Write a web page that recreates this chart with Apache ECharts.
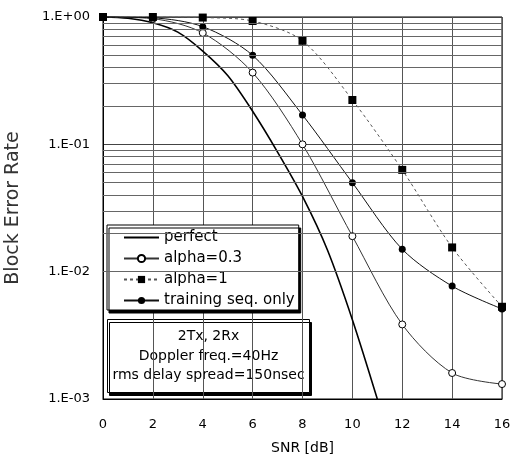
<!DOCTYPE html>
<html>
<head>
<meta charset="utf-8">
<script src="https://cdn.jsdelivr.net/npm/echarts@6/dist/echarts.min.js"></script>
<style>
  html, body { margin: 0; padding: 0; background: #fff; }
  #chart { width: 512px; height: 458px; }
</style>
</head>
<body>
<div id="chart"></div>
<script>
// SNR points (dB)
var snrMarked = [0, 2, 4, 6, 8, 10, 12, 14, 16];
var snrPerfect = [0, 1, 2, 3, 4, 5, 6, 7, 8, 9, 10, 11];

// block error rate
var perfectBler = [1.0, 0.977, 0.90, 0.76, 0.54, 0.347, 0.182, 0.087, 0.039, 0.0148, 0.0042, 0.001];
var alpha03Bler = [1.0, 0.97, 0.75, 0.366, 0.1, 0.019, 0.00385, 0.0016, 0.00131];
var alpha1Bler = [1.0, 1.0, 0.99, 0.93, 0.65, 0.223, 0.063, 0.0155, 0.0053];
var trainingBler = [1.0, 0.985, 0.84, 0.50, 0.17, 0.05, 0.015, 0.0077, 0.0051];

// minor horizontal grid lines (2..9 per decade)
var minorGrid = [0.002, 0.003, 0.004, 0.005, 0.006, 0.007, 0.008, 0.009,
                 0.02, 0.03, 0.04, 0.05, 0.06, 0.07, 0.08, 0.09,
                 0.2, 0.3, 0.4, 0.5, 0.6, 0.7, 0.8, 0.9];

var yTicks = ['1.E-03', '1.E-02', '1.E-01', '1.E+00'];

var boxText = ['2Tx, 2Rx', 'Doppler freq.=40Hz', 'rms delay spread=150nsec'];

function pairs(xs, ys) {
    var out = [];
    for (var i = 0; i < ys.length; i++) {
        out.push([xs[i], ys[i]]);
    }
    return out;
}

var font = 'DejaVu Sans';

var chart = echarts.init(document.getElementById('chart'));
var option = {
    animation: false,
    backgroundColor: '#fff',
    textStyle: { fontFamily: font },
    grid: {
        left: 103, right: 10, top: 17, bottom: 59,
        outerBoundsMode: 'none',
        show: true, borderColor: '#000', borderWidth: 1
    },
    legend: {
        orient: 'vertical',
        left: 107, top: 225,
        data: [
            { name: 'perfect', itemStyle: { color: 'rgba(0,0,0,0)', borderWidth: 0, opacity: 0 } },
            'alpha=0.3', 'alpha=1', 'training seq. only'
        ],
        itemWidth: 35, itemHeight: 9, itemGap: 6,
        padding: [5, 4, 2, 16],
        backgroundColor: '#fff',
        borderColor: '#000', borderWidth: 1,
        shadowColor: '#000', shadowBlur: 0, shadowOffsetX: 2, shadowOffsetY: 3,
        textStyle: { fontFamily: font, fontSize: 15, color: '#000' }
    },
    xAxis: {
        type: 'value', min: 0, max: 16, interval: 2,
        name: 'SNR [dB]', nameLocation: 'middle', nameGap: 42,
        nameTextStyle: { fontFamily: font, fontSize: 14, color: '#000' },
        axisLine: { lineStyle: { color: '#000' } },
        axisTick: { show: false },
        axisLabel: { color: '#000', fontSize: 13, margin: 19 },
        splitLine: { lineStyle: { color: '#555', width: 1 } }
    },
    yAxis: {
        type: 'log', logBase: 10, min: 0.001, max: 1,
        name: 'Block Error Rate', nameLocation: 'middle', nameGap: 80,
        nameTextStyle: { fontFamily: font, fontSize: 19, color: '#333' },
        axisLine: { lineStyle: { color: '#000' } },
        axisTick: { show: false },
        axisLabel: {
            color: '#000', fontSize: 13, margin: 13,
            formatter: function (v) {
                var e = Math.round(Math.log10(v));
                return yTicks[e + 3];
            }
        },
        splitLine: { lineStyle: { color: '#444', width: 1 } }
    },
    graphic: [{
        type: 'group',
        left: 107, top: 319,
        children: [{
            type: 'rect',
            shape: { x: 0, y: 0, width: 202, height: 73 },
            style: {
                fill: '#fff', stroke: '#000', lineWidth: 1,
                shadowColor: '#000', shadowBlur: 0, shadowOffsetX: 2, shadowOffsetY: 3
            }
        }, {
            type: 'text', x: 101, y: 17,
            style: { text: boxText[0], fontFamily: font, fontSize: 14, fill: '#000', align: 'center', verticalAlign: 'middle' }
        }, {
            type: 'text', x: 101, y: 37,
            style: { text: boxText[1], fontFamily: font, fontSize: 14, fill: '#000', align: 'center', verticalAlign: 'middle' }
        }, {
            type: 'text', x: 101, y: 56,
            style: { text: boxText[2], fontFamily: font, fontSize: 14, fill: '#000', align: 'center', verticalAlign: 'middle' }
        }]
    }],
    series: [
        {
            name: 'perfect', type: 'line', smooth: 0.3,
            data: pairs(snrPerfect, perfectBler),
            showSymbol: false, symbol: 'none',
            lineStyle: { color: '#000', width: 1.6 },
            itemStyle: { color: '#000' },
            markLine: {
                silent: true, symbol: 'none',
                label: { show: false },
                lineStyle: { color: '#666', width: 1, type: 'solid' },
                data: minorGrid.map(function (v) { return { yAxis: v }; })
            },
            z: 3
        },
        {
            name: 'alpha=0.3', type: 'line', smooth: 0.3,
            data: pairs(snrMarked, alpha03Bler),
            symbol: 'circle', symbolSize: 7,
            lineStyle: { color: '#333', width: 1 },
            itemStyle: { color: '#fff', borderColor: '#000', borderWidth: 1 },
            z: 4
        },
        {
            name: 'alpha=1', type: 'line', smooth: 0.3,
            data: pairs(snrMarked, alpha1Bler),
            symbol: 'rect', symbolSize: 8,
            lineStyle: { color: '#555', width: 1, type: [3, 3] },
            itemStyle: { color: '#000' },
            z: 4
        },
        {
            name: 'training seq. only', type: 'line', smooth: 0.3,
            data: pairs(snrMarked, trainingBler),
            symbol: 'circle', symbolSize: 7,
            lineStyle: { color: '#111', width: 1 },
            itemStyle: { color: '#000' },
            z: 4
        }
    ]
};
chart.setOption(option);
</script>
</body>
</html>
